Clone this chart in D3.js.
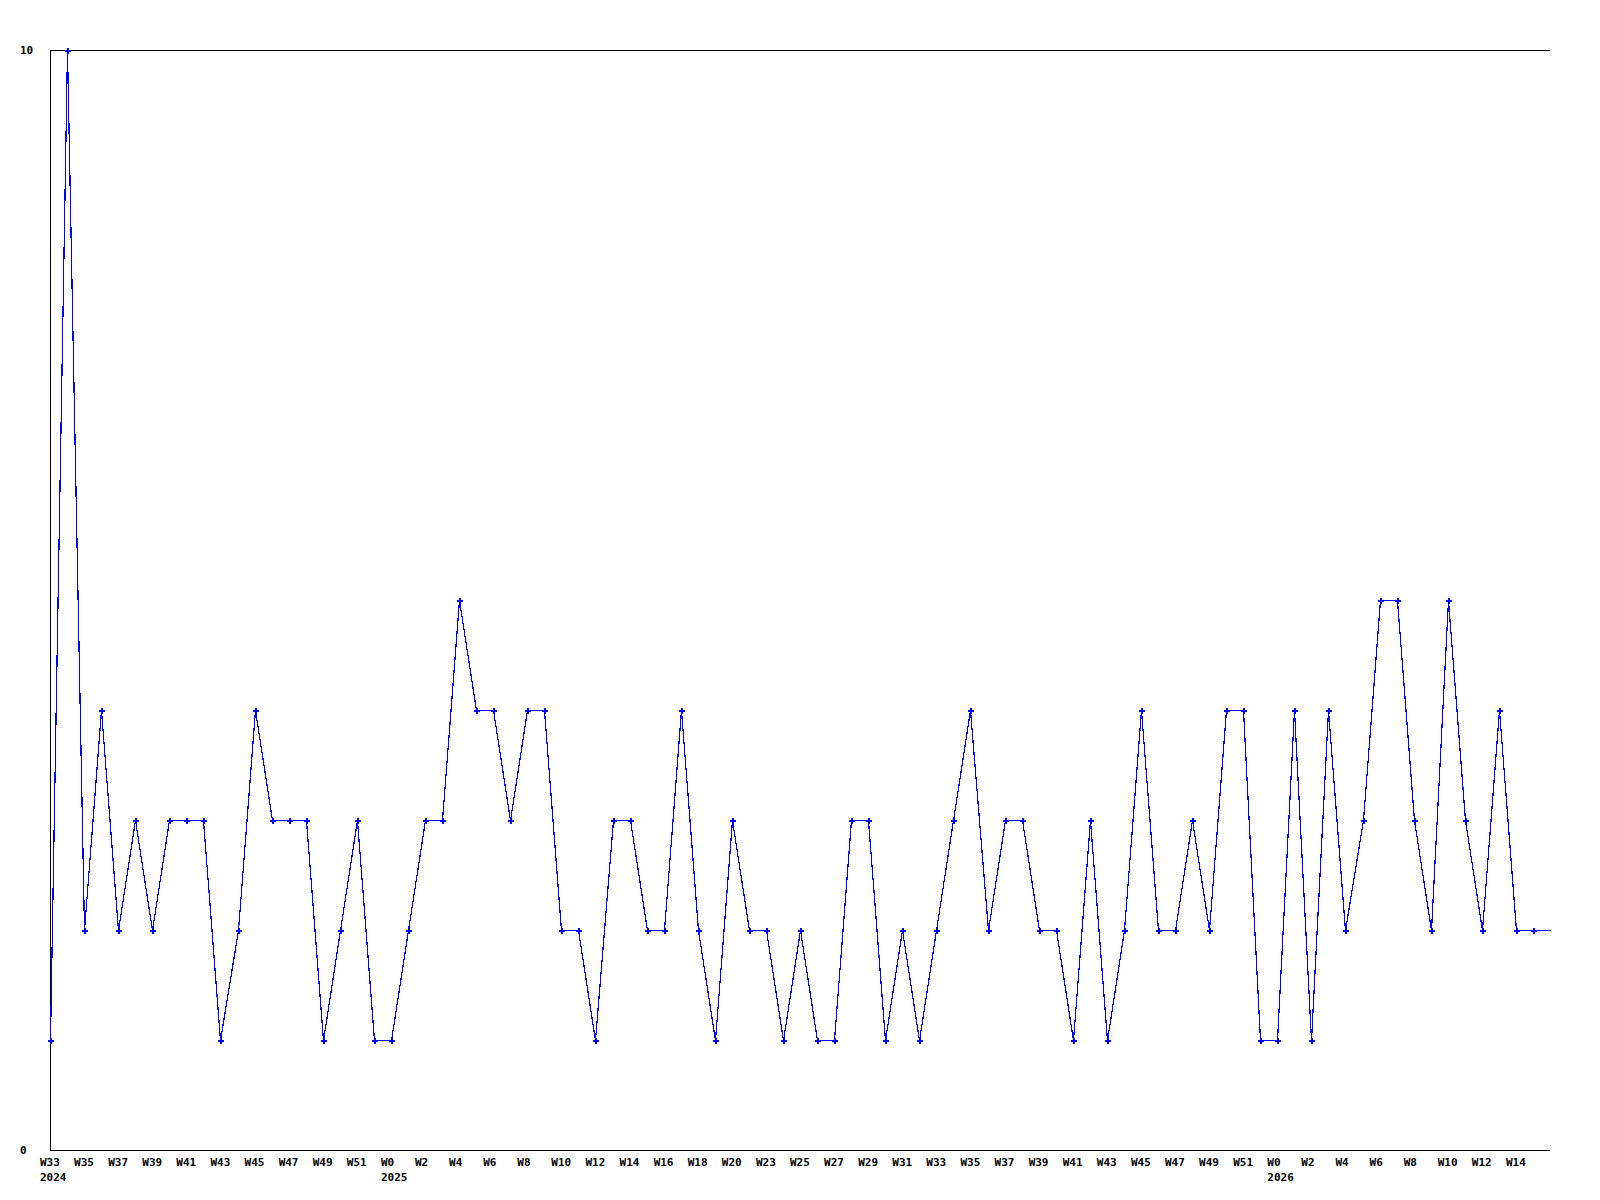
<!DOCTYPE html>
<html>
<head>
<meta charset="utf-8">
<script src="https://d3js.org/d3.v7.min.js"></script>
<style>
    body { margin: 0; background: #fff; }
    text { font-family: 'DejaVu Sans Mono', monospace; font-weight: bold; font-size: 11px; fill: #000; }
</style>
</head>
<body>
<div id="chart"></div>
<script>
// weekly counts, the last one is the running week (no marker)
var counts = [1, 10, 2, 4, 2, 3, 2, 3, 3, 3, 1, 2, 4, 3, 3, 3, 1, 2, 3, 1,
    1, 2, 3, 3, 5, 4, 4, 3, 4, 4, 2, 2, 1, 3, 3, 2, 2, 4, 2, 1,
    3, 2, 2, 1, 2, 1, 1, 3, 3, 1, 2, 1, 2, 3, 4, 2, 3, 3, 2, 2,
    1, 3, 1, 2, 4, 2, 2, 3, 2, 4, 4, 1, 1, 4, 1, 4, 2, 3, 5, 5,
    3, 2, 5, 3, 2, 4, 2, 2, 2];

// one label every second week
var weekLabels = ['W33', 'W35', 'W37', 'W39', 'W41', 'W43', 'W45', 'W47', 'W49', 'W51',
    'W0', 'W2', 'W4', 'W6', 'W8', 'W10', 'W12', 'W14', 'W16', 'W18', 'W20',
    'W23', 'W25', 'W27', 'W29', 'W31', 'W33', 'W35', 'W37', 'W39', 'W41', 'W43', 'W45', 'W47', 'W49', 'W51',
    'W0', 'W2', 'W4', 'W6', 'W8', 'W10', 'W12', 'W14'];

// year shown under the week label with this label index
var yearLabels = [{ at: 0, year: '2024' }, { at: 10, year: '2025' }, { at: 36, year: '2026' }];

var yTicks = [0, 10];

function buildChart(containerId) {
    var width = 1600;
    var height = 1200;
    var margin = { top: 50, right: 50, bottom: 50, left: 50 };

    var svg = d3
        .select(containerId)
        .append('svg')
        .attr('width', width)
        .attr('height', height);

    var x = d3.scaleLinear()
        .domain([0, counts.length - 1])
        .range([margin.left, width - margin.right]);

    var y = d3.scaleLinear()
        .domain([0, 10])
        .range([height - margin.bottom, margin.top]);

    // frame: left, top and bottom only
    var frame = svg.append('g')
        .attr('stroke', '#000')
        .attr('shape-rendering', 'crispEdges');

    frame.append('line')
        .attr('x1', x.range()[0] + 0.5).attr('x2', x.range()[0] + 0.5)
        .attr('y1', y.range()[1]).attr('y2', y.range()[0] + 1);
    frame.append('line')
        .attr('x1', x.range()[0]).attr('x2', x.range()[1])
        .attr('y1', y.range()[1] + 0.5).attr('y2', y.range()[1] + 0.5);
    frame.append('line')
        .attr('x1', x.range()[0]).attr('x2', x.range()[1])
        .attr('y1', y.range()[0] + 0.5).attr('y2', y.range()[0] + 0.5);

    // y labels
    svg.append('g')
        .selectAll('text')
        .data(yTicks)
        .enter()
        .append('text')
        .attr('x', 20)
        .attr('y', d => y(d) + 4)
        .text(d => d);

    // x labels
    svg.append('g')
        .selectAll('text')
        .data(weekLabels)
        .enter()
        .append('text')
        .attr('x', (d, i) => x(i * 2) - 10)
        .attr('y', height - margin.bottom + 16)
        .text(d => d);

    svg.append('g')
        .selectAll('text')
        .data(yearLabels)
        .enter()
        .append('text')
        .attr('x', d => x(d.at * 2) - 10)
        .attr('y', height - margin.bottom + 31)
        .text(d => d.year);

    // the line
    var line = d3.line()
        .x((d, i) => Math.round(x(i)) + 0.5)
        .y(d => Math.round(y(d)) + 0.5);

    svg.append('path')
        .datum(counts)
        .attr('d', line)
        .attr('fill', 'none')
        .attr('stroke', '#0000ff')
        .attr('stroke-width', 1.2)
        .attr('shape-rendering', 'crispEdges');

    // markers, skipping the running week
    var cross = d3.symbol().type(d3.symbolCross).size(20);

    svg.append('g')
        .selectAll('path')
        .data(counts.slice(0, counts.length - 1))
        .enter()
        .append('path')
        .attr('d', cross)
        .attr('transform', (d, i) => 'translate(' + (Math.round(x(i)) + 0.5) + ',' + (Math.round(y(d)) + 0.5) + ')')
        .attr('fill', '#0000ff')
        .attr('shape-rendering', 'crispEdges');
}

buildChart('#chart');
</script>
</body>
</html>
